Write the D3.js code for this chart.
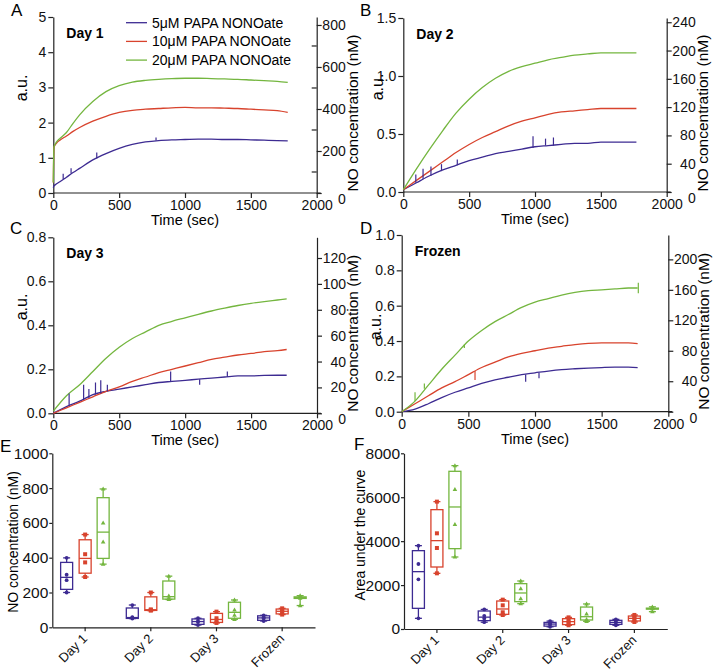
<!DOCTYPE html>
<html>
<head>
<meta charset="utf-8">
<script src="https://cdn.jsdelivr.net/npm/d3@7"></script>
<style>
  body { margin: 0; background: #fff; }
  svg text { font-family: "Liberation Sans", Arial, sans-serif; }
</style>
</head>
<body>
<div id="wrapper"></div>
<script>
// ---- data ----
const legendLabels = ["5μM PAPA NONOate", "10μM PAPA NONOate", "20μM PAPA NONOate"]
const colors = ["#3d2b92", "#d8432d", "#74b63f"]

// panel A (Day 1), a.u.
const timesA = [0, 5, 25, 50, 100, 150, 200, 300, 400, 500, 600, 700, 800, 900, 1000, 1100, 1200, 1300, 1400, 1500, 1600, 1700, 1780]
const day1Purple = [0.15, 0.2, 0.26, 0.32, 0.45, 0.58, 0.7, 0.94, 1.12, 1.27, 1.38, 1.45, 1.49, 1.51, 1.52, 1.53, 1.53, 1.52, 1.52, 1.51, 1.5, 1.49, 1.48]
const day1Red = [0.3, 1.3, 1.42, 1.5, 1.62, 1.75, 1.86, 2.04, 2.18, 2.29, 2.35, 2.38, 2.4, 2.42, 2.43, 2.42, 2.42, 2.41, 2.4, 2.38, 2.36, 2.34, 2.29]
const day1Green = [0.3, 1.3, 1.45, 1.55, 1.72, 1.98, 2.22, 2.6, 2.88, 3.05, 3.15, 3.2, 3.23, 3.25, 3.26, 3.26, 3.25, 3.24, 3.23, 3.21, 3.19, 3.17, 3.14]

// panels B-D share the same sampling times
const timesBCD = [0, 100, 200, 300, 400, 500, 600, 700, 800, 900, 1000, 1100, 1200, 1300, 1400, 1500, 1600, 1700, 1770]
const day2Purple = [0.02, 0.08, 0.14, 0.19, 0.23, 0.27, 0.3, 0.33, 0.35, 0.37, 0.39, 0.4, 0.41, 0.42, 0.42, 0.43, 0.43, 0.43, 0.43]
const day2Red = [0.02, 0.1, 0.18, 0.26, 0.34, 0.41, 0.47, 0.52, 0.57, 0.61, 0.64, 0.67, 0.69, 0.7, 0.71, 0.72, 0.72, 0.72, 0.72]
const day2Green = [0.02, 0.2, 0.37, 0.53, 0.68, 0.8, 0.9, 0.98, 1.04, 1.08, 1.11, 1.14, 1.16, 1.18, 1.19, 1.2, 1.2, 1.2, 1.2]
const day3Purple = [0, 0.03, 0.055, 0.085, 0.1, 0.11, 0.12, 0.13, 0.14, 0.145, 0.15, 0.155, 0.16, 0.165, 0.17, 0.17, 0.172, 0.173, 0.173]
const day3Red = [0, 0.025, 0.05, 0.075, 0.1, 0.12, 0.145, 0.165, 0.185, 0.2, 0.215, 0.23, 0.245, 0.255, 0.265, 0.272, 0.28, 0.285, 0.29]
const day3Green = [0.01, 0.08, 0.13, 0.19, 0.25, 0.3, 0.34, 0.37, 0.4, 0.418, 0.434, 0.45, 0.465, 0.478, 0.49, 0.5, 0.508, 0.515, 0.52]
const frozenPurple = [0, 0.015, 0.045, 0.08, 0.11, 0.135, 0.16, 0.18, 0.195, 0.21, 0.22, 0.23, 0.238, 0.243, 0.247, 0.25, 0.252, 0.252, 0.25]
const frozenRed = [0, 0.045, 0.09, 0.135, 0.17, 0.21, 0.25, 0.28, 0.31, 0.33, 0.345, 0.36, 0.37, 0.38, 0.387, 0.39, 0.39, 0.39, 0.385]
const frozenGreen = [0, 0.06, 0.15, 0.24, 0.32, 0.4, 0.46, 0.51, 0.55, 0.59, 0.62, 0.64, 0.66, 0.675, 0.685, 0.69, 0.695, 0.7, 0.7]

// noise spikes: [series index, time, base, peak]
const day1Spikes = [[0, 75, 0.4, 0.55], [0, 135, 0.56, 0.7], [0, 330, 0.98, 1.15], [0, 780, 1.49, 1.58]]
const day2Spikes = [[0, 95, 0.08, 0.15], [0, 150, 0.11, 0.2], [0, 210, 0.14, 0.22], [0, 290, 0.18, 0.24], [0, 410, 0.23, 0.28], [0, 985, 0.38, 0.48], [0, 1080, 0.4, 0.46], [0, 1140, 0.4, 0.47]]
const day3Spikes = [[0, 120, 0.035, 0.09], [0, 230, 0.06, 0.13], [0, 270, 0.07, 0.11], [0, 320, 0.085, 0.14], [0, 360, 0.09, 0.15], [0, 410, 0.1, 0.13], [0, 890, 0.145, 0.19], [0, 1110, 0.155, 0.13], [0, 1320, 0.165, 0.19]]
const frozenSpikes = [[1, 550, 0.23, 0.18], [2, 470, 0.38, 0.36], [2, 100, 0.06, 0.11], [2, 170, 0.13, 0.16], [2, 1775, 0.67, 0.73], [0, 930, 0.21, 0.17], [0, 1030, 0.22, 0.19]]

// box plots: [min, q1, median, q3, max] per category, plus the individual points
const categories = ["Day 1", "Day 2", "Day 3", "Frozen"]
const concPurple = [[200, 218, 287, 373, 399], [50, 51, 56, 111, 128], [13, 17, 33, 48, 52], [36, 40, 54, 66, 69]]
const concRed = [[289, 311, 396, 503, 533], [96, 97, 101, 175, 200], [25, 28, 45, 80, 90], [73, 77, 92, 105, 109]]
const concGreen = [[363, 396, 547, 745, 795], [160, 162, 176, 266, 294], [46, 52, 86, 144, 157], [125, 166, 170, 175, 182]]
const concPurplePts = [[200, 271, 302, 399], [50, 55, 58, 128], [13, 30, 36, 52], [36, 50, 58, 69]]
const concRedPts = [[289, 373, 420, 533], [96, 99, 103, 200], [25, 38, 52, 90], [73, 88, 96, 109]]
const concGreenPts = [[363, 491, 600, 795], [160, 168, 180, 294], [46, 70, 100, 157], [125, 168, 172, 182]]

const aucPurple = [[486, 941, 2611, 3567, 3795], [310, 380, 540, 820, 890], [100, 130, 225, 300, 360], [170, 210, 300, 395, 440]]
const aucRed = [[2535, 2823, 4023, 5434, 5799], [638, 668, 911, 1275, 1336], [170, 200, 335, 470, 530], [320, 365, 485, 590, 640]]
const aucGreen = [[3279, 3658, 5556, 7180, 7438], [1154, 1245, 1640, 2065, 2186], [350, 410, 560, 1000, 1140], [790, 905, 925, 950, 1010]]
const aucPurplePts = [[486, 2262, 2960, 3795], [310, 480, 600, 890], [100, 200, 250, 360], [170, 280, 330, 440]]
const aucRedPts = [[2535, 3689, 4357, 5799], [638, 760, 1078, 1336], [170, 300, 370, 530], [320, 450, 520, 640]]
const aucGreenPts = [[3279, 4767, 6360, 7438], [1154, 1381, 1837, 2186], [350, 440, 683, 1140], [790, 930, 960, 1010]]

// ---- canvas ----
const svg = d3.select("#wrapper").append("svg").attr("width", 714).attr("height", 672)
const axisColor = "#222"
const fmtInt = d3.format("d")
const fmt1 = d3.format(".1f")

const styleAxis = (g, size) => {
  g.attr("font-family", null).attr("font-size", size)
  g.selectAll("path, line").attr("stroke", axisColor).attr("stroke-width", 1.2)
  g.selectAll("text").attr("fill", "#111")
}

const panelLetter = (letter, x, y) =>
  svg.append("text").attr("x", x).attr("y", y).attr("font-size", 17).text(letter)

const drawLinePanel = (p) => {
  const xScale = d3.scaleLinear().domain([0, 2000]).range(p.xr)
  const yScale = d3.scaleLinear().domain(p.left).range(p.yr)
  const yRight = d3.scaleLinear().domain(p.right).range(p.yr)

  svg.append("g")
    .attr("transform", `translate(0,${p.yr[0]})`)
    .call(d3.axisBottom(xScale).tickValues([0, 500, 1000, 1500, 2000]).tickFormat(fmtInt)
      .tickSize(5).tickPadding(2).tickSizeOuter(0))
    .call((g) => styleAxis(g, 14))
    .call((g) => g.select(".domain").attr("d", `M${p.xr[0]},0H${p.xr[1] + 4}`))

  svg.append("g")
    .attr("transform", `translate(${p.xr[0]},0)`)
    .call(d3.axisLeft(yScale).tickValues(p.leftTicks).tickFormat(p.leftFmt).tickSize(5).tickPadding(2).tickSizeOuter(0))
    .call((g) => styleAxis(g, 14))

  // right axis: labels are right-aligned, the zero label sits a little low
  const right = svg.append("g")
    .attr("transform", `translate(${p.xr[1]},0)`)
    .call(d3.axisRight(yRight).tickValues(p.rightTicks).tickFormat(fmtInt).tickSize(5).tickPadding(3).tickSizeOuter(0))
    .call((g) => styleAxis(g, 14))
    .call((g) => g.selectAll("text").attr("x", 29).attr("text-anchor", "end"))
    .call((g) => g.selectAll(".tick").filter((d) => d === 0).select("text").attr("dy", "0.75em"))
  right.selectAll(".minor").data(p.rightMinor).join("line")
    .attr("x1", 0).attr("x2", -5)
    .attr("y1", (d) => yRight(d)).attr("y2", (d) => yRight(d))
    .attr("stroke", axisColor).attr("stroke-width", 1.2)

  const line = d3.line().curve(d3.curveMonotoneX).x((d) => xScale(d[0])).y((d) => yScale(d[1]))
  p.series.forEach((vals, i) => {
    svg.append("path")
      .attr("d", line(p.times.map((t, j) => [t, vals[j]])))
      .attr("fill", "none").attr("stroke", colors[i]).attr("stroke-width", 1.3)
      .attr("stroke-linejoin", "round")
  })
  svg.append("g").selectAll("line").data(p.spikes).join("line")
    .attr("x1", (d) => xScale(d[1])).attr("x2", (d) => xScale(d[1]))
    .attr("y1", (d) => yScale(d[2])).attr("y2", (d) => yScale(d[3]))
    .attr("stroke", (d) => colors[d[0]]).attr("stroke-width", 1.2)

  svg.append("text").attr("x", p.xr[0] + 13).attr("y", p.yr[1] + 21)
    .attr("font-size", 14).attr("font-weight", "bold").text(p.title)

  svg.append("text").attr("text-anchor", "middle").attr("font-size", 14.5)
    .attr("x", (p.xr[0] + p.xr[1]) / 2).attr("y", p.yr[0] + 32).text("Time (sec)")
  svg.append("text").attr("text-anchor", "middle").attr("font-size", 16)
    .attr("transform", `translate(${p.auPos[0]},${p.auPos[1]}) rotate(-90)`).text("a.u.")
  svg.append("text").attr("text-anchor", "middle").attr("font-size", 15.5)
    .attr("transform", `translate(${p.xr[1] + 41},${(p.yr[0] + p.yr[1]) / 2 + 8}) rotate(-90)`)
    .text("NO concentration (nM)")
}

drawLinePanel({
  xr: [53.3, 316.7], yr: [193, 17], left: [0, 5], leftTicks: [0, 1, 2, 3, 4, 5], leftFmt: fmtInt,
  right: [0, 838], rightTicks: [0, 200, 400, 600, 800], rightMinor: [100, 300, 500, 700],
  times: timesA, series: [day1Purple, day1Red, day1Green], spikes: day1Spikes, title: "Day 1", auPos: [27, 88],
})
drawLinePanel({
  xr: [403.3, 666.7], yr: [192, 18], left: [0, 1.5], leftTicks: [0, 0.5, 1, 1.5], leftFmt: fmt1,
  right: [0, 246], rightTicks: [0, 40, 80, 120, 160, 200, 240], rightMinor: [],
  times: timesBCD, series: [day2Purple, day2Red, day2Green], spikes: day2Spikes, title: "Day 2", auPos: [383, 87],
})
drawLinePanel({
  xr: [53.3, 317], yr: [413.3, 237.3], left: [0, 0.8], leftTicks: [0, 0.2, 0.4, 0.6, 0.8], leftFmt: fmt1,
  right: [0, 136], rightTicks: [0, 20, 40, 60, 80, 100, 120], rightMinor: [],
  times: timesBCD, series: [day3Purple, day3Red, day3Green], spikes: day3Spikes, title: "Day 3", auPos: [27, 307],
})
drawLinePanel({
  xr: [401.7, 668.3], yr: [411.7, 235], left: [0, 1], leftTicks: [0, 0.2, 0.4, 0.6, 0.8, 1], leftFmt: fmt1,
  right: [0, 232], rightTicks: [0, 40, 80, 120, 160, 200], rightMinor: [],
  times: timesBCD, series: [frozenPurple, frozenRed, frozenGreen], spikes: frozenSpikes, title: "Frozen", auPos: [381, 327],
})

// legend in panel A
legendLabels.forEach((label, i) => {
  const y = 22.7 + i * 18.7
  svg.append("line").attr("x1", 126).attr("x2", 147).attr("y1", y).attr("y2", y)
    .attr("stroke", colors[i]).attr("stroke-width", 1.3)
  svg.append("text").attr("x", 152).attr("y", y + 5).attr("font-size", 14).text(label)
})

// ---- box plots ----
const drawMarker = (g, shape, x, y, color) => {
  if (shape === 0) g.append("circle").attr("cx", x).attr("cy", y).attr("r", 1.9).attr("fill", color)
  else if (shape === 1) g.append("rect").attr("x", x - 2).attr("y", y - 2).attr("width", 4).attr("height", 4).attr("fill", color)
  else g.append("path").attr("d", `M${x},${y - 2.4}L${x + 2.3},${y + 1.6}L${x - 2.3},${y + 1.6}Z`).attr("fill", color)
}

const drawBoxPanel = (p) => {
  const xBand = d3.scaleBand().domain(categories).range(p.xr)
  const yScale = d3.scaleLinear().domain([0, p.max]).range(p.yr)

  svg.append("g")
    .attr("transform", `translate(${p.xr[0]},0)`)
    .call(d3.axisLeft(yScale).tickValues(p.ticks).tickFormat(fmtInt).tickSize(3).tickPadding(1).tickSizeOuter(0))
    .call((g) => styleAxis(g, 15.5))

  svg.append("g")
    .attr("transform", `translate(0,${p.yr[0]})`)
    .call(d3.axisBottom(xBand).tickSize(4).tickSizeOuter(0))
    .call((g) => styleAxis(g, 13))
    .call((g) => g.selectAll("text")
      .attr("x", 0).attr("y", 0).attr("dy", 0)
      .attr("transform", "translate(3,12) rotate(-45)")
      .attr("text-anchor", "end"))

  const offsets = [-18.5, 0, 18]
  p.stats.forEach((rows, s) => {
    const color = colors[s]
    const g = svg.append("g").attr("stroke", color).attr("stroke-width", 1.3).attr("fill", "none")
    rows.forEach(([mn, q1, med, q3, mx], i) => {
      const cx = xBand(categories[i]) + xBand.bandwidth() / 2 + offsets[s]
      g.append("line").attr("x1", cx).attr("x2", cx).attr("y1", yScale(mx)).attr("y2", yScale(q3))
      g.append("line").attr("x1", cx).attr("x2", cx).attr("y1", yScale(q1)).attr("y2", yScale(mn))
      ;[mn, mx].forEach((v) => g.append("line").attr("x1", cx - 3.5).attr("x2", cx + 3.5).attr("y1", yScale(v)).attr("y2", yScale(v)))
      g.append("rect").attr("x", cx - 6).attr("width", 12)
        .attr("y", yScale(q3)).attr("height", yScale(q1) - yScale(q3))
      g.append("line").attr("x1", cx - 6).attr("x2", cx + 6).attr("y1", yScale(med)).attr("y2", yScale(med))
      const pg = svg.append("g")
      p.points[s][i].forEach((v) => drawMarker(pg, s, cx, yScale(v), color))
    })
  })

  svg.append("text").attr("text-anchor", "middle").attr("font-size", p.titleSize)
    .attr("transform", `translate(${p.titlePos[0]},${p.titlePos[1]}) rotate(-90)`).text(p.title)
}

drawBoxPanel({
  xr: [52.3, 315], yr: [627.3, 453.3], max: 1000, ticks: [0, 200, 400, 600, 800, 1000],
  stats: [concPurple, concRed, concGreen], points: [concPurplePts, concRedPts, concGreenPts],
  title: "NO concentration (nM)", titleSize: 14, titlePos: [18, 542],
})
drawBoxPanel({
  xr: [404, 667.3], yr: [629, 453.3], max: 8000, ticks: [0, 2000, 4000, 6000, 8000],
  stats: [aucPurple, aucRed, aucGreen], points: [aucPurplePts, aucRedPts, aucGreenPts],
  title: "Area under the curve", titleSize: 14, titlePos: [365, 535],
})

panelLetter("A", 11, 16)
panelLetter("B", 360, 16)
panelLetter("C", 10, 234)
panelLetter("D", 360, 234)
panelLetter("E", 0, 452)
panelLetter("F", 354, 450)
</script>
</body>
</html>
